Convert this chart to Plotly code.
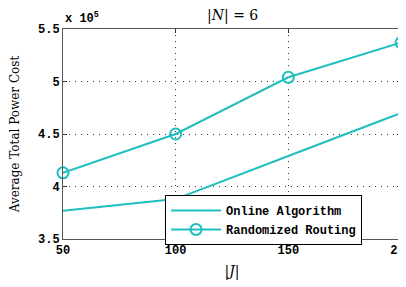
import plotly.graph_objects as go

J = [50, 100, 150, 200]
online = [3.77, 3.88, 4.29, 4.70]
randomized = [4.13, 4.50, 5.04, 5.37]
names = ["Online Algorithm", "Randomized Routing"]
xticks = [50, 100, 150, 200]
yticks = [3.5, 4.0, 4.5, 5.0, 5.5]
ytick_text = ["3.5", "4", "4.5", "5", "5.5"]

color = "#1fbfbf"
mono = dict(family="Liberation Mono", size=12, color="black", weight="bold")

fig = go.Figure()
fig.add_trace(go.Scatter(x=J, y=online, mode="lines", name=names[0],
                         line=dict(color=color, width=2), cliponaxis=False))
fig.add_trace(go.Scatter(x=J, y=randomized, mode="lines+markers", name=names[1],
                         line=dict(color=color, width=2), cliponaxis=False,
                         marker=dict(symbol="circle-open", size=11, color=color,
                                     line=dict(width=2, color=color))))

axis_common = dict(showline=True, linecolor="#555555", linewidth=1, mirror="ticks",
                   ticks="inside", ticklen=4, tickcolor="#333333",
                   showgrid=True, gridcolor="#333333", gridwidth=1, griddash="1px,5px",
                   zeroline=False, tickfont=mono, automargin=False,
                   ticklabeloverflow="allow")

fig.update_xaxes(range=[50, 200], tickvals=xticks, ticktext=[str(v) for v in xticks],
                 **axis_common,
                 title=dict(text="|<i>J</i>|", font=dict(family="DejaVu Serif", size=14, color="black"),
                            standoff=8))
fig.update_yaxes(range=[3.5, 5.5], tickvals=yticks, ticktext=ytick_text,
                 **axis_common,
                 title=dict(text="Average Total Power Cost",
                            font=dict(family="DejaVu Serif", size=12, color="black"),
                            standoff=16))

fig.add_annotation(text="|<i>N</i>| = 6", xref="paper", yref="paper", x=0.5, y=1.0,
                   yanchor="bottom", yshift=3, showarrow=False,
                   font=dict(family="DejaVu Serif", size=14, color="black"))
fig.add_annotation(text="x 10<sup>5</sup>", xref="paper", yref="paper", x=0.0, y=1.0,
                   xanchor="left", yanchor="bottom", yshift=1, showarrow=False,
                   font=dict(family="Liberation Mono", size=12, color="black", weight="bold"))

fig.update_layout(
    width=398, height=279,
    margin=dict(l=55, r=5, t=21, b=48),
    paper_bgcolor="white", plot_bgcolor="white",
    showlegend=True,
    legend=dict(x=0.302, y=0.21, xanchor="left", yanchor="top",
                bgcolor="white", bordercolor="black", borderwidth=1,
                font=mono, tracegroupgap=0, itemwidth=50,
                entrywidth=220, entrywidthmode="pixels"),
)

fig.write_html("out.html")
